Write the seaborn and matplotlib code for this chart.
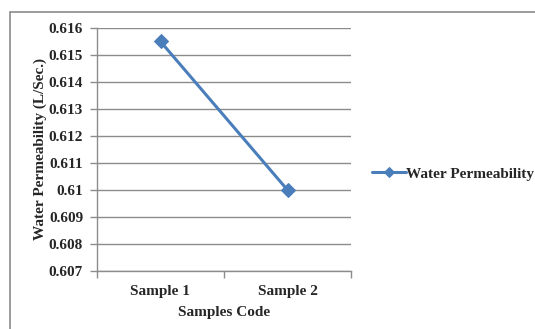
import matplotlib
matplotlib.use("Agg")
import matplotlib.pyplot as plt
import matplotlib.patches as mpatches
from matplotlib.ticker import FixedLocator
import seaborn as sns
import pandas as pd

samples = ["Sample 1", "Sample 2"]
permeability = [0.6155, 0.610]
series_name = "Water Permeability"
y_ticks = [0.607, 0.608, 0.609, 0.610, 0.611, 0.612, 0.613, 0.614, 0.615, 0.616]
y_tick_labels = ["0.607", "0.608", "0.609", "0.61", "0.611", "0.612", "0.613", "0.614", "0.615", "0.616"]

df = pd.DataFrame({"Sample": samples, "Permeability": permeability, "Series": series_name})

sns.set_theme(style="white")
plt.rcParams["font.family"] = ["Liberation Serif", "DejaVu Serif"]
plt.rcParams["font.weight"] = "bold"

fig = plt.figure(figsize=(5.35, 3.29), dpi=100)
fig.patch.set_facecolor("white")

# chart-area frame (top and left edges visible)
frame = mpatches.Rectangle((10 / 535, -0.05), 1.2, 1 - 12 / 329 + 0.05,
                           transform=fig.transFigure, fill=False,
                           edgecolor="#8a8a8a", linewidth=1.2, zorder=0)
fig.patches.append(frame)

ax = fig.add_axes([97 / 535, 1 - 271 / 329, (351 - 97) / 535, (271 - 28) / 329])

line_color = "#4A7EBB"
sns.lineplot(data=df, x="Sample", y="Permeability", hue="Series", palette=[line_color],
             marker="D", markersize=7, markeredgecolor=line_color, linewidth=2.2,
             ax=ax, sort=False)

ax.set_xlim(-0.5, 1.5)
ax.set_ylim(0.607, 0.616)

# category boundaries carry the tick marks, labels sit at category centres
ax.xaxis.set_major_locator(FixedLocator([-0.5, 0.5, 1.5]))
ax.xaxis.set_major_formatter(plt.NullFormatter())
ax.set_xticks([0, 1], minor=True)
ax.set_xticklabels(samples, minor=True)
ax.tick_params(axis="x", which="major", direction="out", length=5, width=1, color="#8c8c8c", bottom=True)
ax.tick_params(axis="x", which="minor", length=0, pad=10, labelsize=11)

ax.set_yticks(y_ticks)
ax.set_yticklabels(y_tick_labels)
ax.tick_params(axis="y", direction="out", length=5, width=1, color="#8c8c8c", left=True, labelsize=11, pad=5)

for lbl in ax.get_xticklabels(minor=True) + ax.get_yticklabels():
    lbl.set_fontweight("bold")

ax.grid(axis="y", color="#8c8c8c", linewidth=1)
ax.grid(axis="x", visible=False)
for side in ["top", "right"]:
    ax.spines[side].set_visible(False)
for side in ["left", "bottom"]:
    ax.spines[side].set_color("#8c8c8c")
    ax.spines[side].set_linewidth(1)

ax.set_xlabel("Samples Code", fontsize=11, fontweight="bold", labelpad=6)
ax.set_ylabel("Water Permeability (L/Sec.)", fontsize=11, fontweight="bold", labelpad=1)

ax.legend(loc="center left", bbox_to_anchor=(1.03, 0.4), frameon=False,
          prop={"weight": "bold", "size": 11}, handlelength=2.2, handletextpad=0.0,
          markerscale=0.8)

fig.savefig("out.png", dpi=100)
